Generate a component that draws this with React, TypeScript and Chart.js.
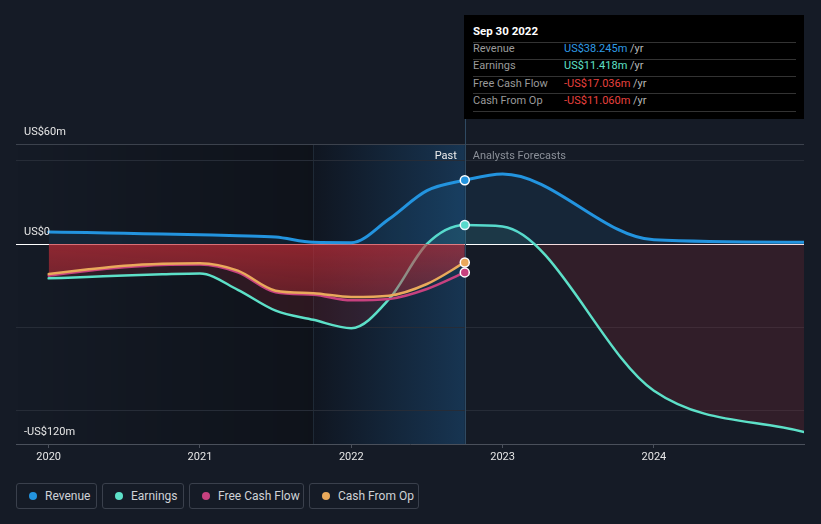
import React, { useEffect, useRef } from "react";
import { Chart, registerables } from "chart.js";

Chart.register(...registerables);

const BG = "#151b26";
const FONT = "Roboto, 'Open Sans', sans-serif";

// ---- data (US$ m) ----
const pastQuarters = [2020, 2020.25, 2020.5, 2020.75, 2021, 2021.25, 2021.5, 2021.75, 2022, 2022.25, 2022.5, 2022.75];
const revenuePast = [7.2, 6.9, 6.4, 6.0, 5.5, 5.0, 4.2, 1.0, 0.8, 15, 32, 38.245];
const earningsPast = [-20.6, -19.8, -18.9, -18.2, -17.7, -27.5, -40, -45.5, -50.5, -33, 0, 11.418];
const fcfPast = [-19, -16.2, -14, -12.6, -12.3, -17, -29, -30.5, -33.8, -33, -27, -17.036];
const cfoPast = [-18, -15.3, -13, -11.8, -11.5, -16, -28, -29.5, -31.8, -31, -24, -11.06];

const forecastYears = [2023, 2024, 2025];
const revenueForecast = [42, 2.5, 1.0];
const earningsForecast = [10.5, -88, -113];

const xTicks = [2020, 2021, 2022, 2023, 2024];
const yTicks = [-120, -100, -50, 0, 50, 60];
const yLabelValues = [60, 0, -120];
const yLabelTexts = ["US$60m", "US$0", "-US$120m"];

const pastStart = 2021.75;
const nowX = 2022.75;
const nowLabel = "Sep 30 2022";

const seriesNames = ["Revenue", "Earnings", "Free Cash Flow", "Cash From Op"];
const seriesColors = ["#2394df", "#5de0c8", "#c7417f", "#e9a95b"];
const valueColors = ["#2f9be6", "#5fe0c8", "#e8413e", "#e8413e"];

const toPts = (xs: number[], ys: number[]) => xs.map((x, i) => ({ x, y: ys[i] }));
const fmt = (v: number) => (v < 0 ? "-" : "") + "US$" + Math.abs(v).toFixed(3) + "m";

const shadePlugin = {
  id: "shade",
  beforeDraw(chart: any) {
    const { ctx, chartArea: a, scales } = chart;
    const xs = scales.x.getPixelForValue(pastStart);
    const xn = scales.x.getPixelForValue(nowX);
    ctx.save();
    let g = ctx.createLinearGradient(a.left, 0, xs, 0);
    g.addColorStop(0, "rgba(0,0,0,0)");
    g.addColorStop(1, "rgba(0,0,0,0.3)");
    ctx.fillStyle = g;
    ctx.fillRect(a.left, a.top, xs - a.left, a.bottom - a.top);
    g = ctx.createLinearGradient(xs, 0, xn, 0);
    g.addColorStop(0, "rgba(5,12,22,0.3)");
    g.addColorStop(1, "rgba(30,115,185,0.3)");
    ctx.fillStyle = g;
    ctx.fillRect(xs, a.top, xn - xs, a.bottom - a.top);
    ctx.strokeStyle = "rgba(60,80,100,0.35)";
    ctx.lineWidth = 1;
    ctx.beginPath();
    ctx.moveTo(Math.round(xs) + 0.5, a.top);
    ctx.lineTo(Math.round(xs) + 0.5, a.bottom);
    ctx.stroke();
    ctx.restore();
  },
  beforeDatasetsDraw(chart: any) {
    const { ctx, chartArea: a, scales } = chart;
    const xn = Math.round(scales.x.getPixelForValue(nowX)) + 0.5;
    ctx.save();
    ctx.strokeStyle = "#2f4a62";
    ctx.lineWidth = 1;
    ctx.beginPath();
    ctx.moveTo(xn, 119);
    ctx.lineTo(xn, a.bottom);
    ctx.stroke();
    ctx.restore();
  },
  afterDatasetsDraw(chart: any) {
    const { ctx, scales } = chart;
    const xn = scales.x.getPixelForValue(nowX);
    ctx.save();
    ctx.font = `11px ${FONT}`;
    ctx.textBaseline = "middle";
    ctx.fillStyle = "#e6e6e6";
    ctx.textAlign = "left";
    yLabelValues.forEach((v, i) => {
      ctx.fillText(yLabelTexts[i], 24, scales.y.getPixelForValue(v) - 12);
    });
    ctx.textAlign = "right";
    ctx.fillStyle = "#eeeeee";
    ctx.fillText("Past", xn - 8, 156);
    ctx.textAlign = "left";
    ctx.fillStyle = "#8b9099";
    ctx.fillText("Analysts Forecasts", xn + 8, 156);
    ctx.restore();
  },
};

const pointR = (c: any) => (c.raw && c.raw.x === nowX ? 4.5 : 0);

export default function App() {
  const ref = useRef<HTMLCanvasElement>(null);

  useEffect(() => {
    const cfoFill = (c: any) => {
      const ch = c.chart;
      if (!ch.chartArea) return "rgba(200,45,55,0.5)";
      const y0 = ch.scales.y.getPixelForValue(0);
      const y1 = ch.scales.y.getPixelForValue(-35);
      const g = ch.ctx.createLinearGradient(0, y0, 0, y1);
      g.addColorStop(0, "rgba(200,45,55,0.62)");
      g.addColorStop(1, "rgba(200,45,55,0.32)");
      return g;
    };
    const common = {
      pointRadius: pointR,
      pointBorderColor: "#ffffff",
      pointBorderWidth: 1.5,
      cubicInterpolationMode: "monotone",
      borderCapStyle: "round",
    };
    const chart = new Chart(ref.current!, {
      type: "line",
      data: {
        datasets: [
          {
            ...common,
            label: seriesNames[0],
            data: toPts(pastQuarters.concat(forecastYears), revenuePast.concat(revenueForecast)),
            borderColor: seriesColors[0],
            pointBackgroundColor: seriesColors[0],
            borderWidth: 3,
            fill: "origin",
            backgroundColor: "rgba(33,150,243,0.09)",
          },
          {
            ...common,
            label: seriesNames[3],
            data: toPts(pastQuarters, cfoPast),
            borderColor: seriesColors[3],
            pointBackgroundColor: seriesColors[3],
            borderWidth: 2.5,
            fill: "origin",
            backgroundColor: cfoFill,
          },
          {
            ...common,
            label: seriesNames[2],
            data: toPts(pastQuarters, fcfPast),
            borderColor: seriesColors[2],
            pointBackgroundColor: seriesColors[2],
            borderWidth: 2.5,
            fill: false,
          },
          {
            ...common,
            label: seriesNames[1],
            data: toPts(pastQuarters.concat(forecastYears), earningsPast.concat(earningsForecast)),
            borderColor: seriesColors[1],
            pointBackgroundColor: seriesColors[1],
            borderWidth: 2.5,
            fill: { target: "origin", above: "rgba(88,224,198,0.10)", below: "rgba(190,45,60,0.17)" },
          },
        ],
      } as any,
      options: {
        responsive: false,
        animation: false,
        events: [],
        layout: { padding: { left: 16, right: 17, top: 144, bottom: 0 } },
        plugins: { legend: { display: false }, tooltip: { enabled: false } },
        scales: {
          x: {
            type: "linear",
            min: 2019.784,
            max: 2024.992,
            afterBuildTicks: (s: any) => {
              s.ticks = xTicks.map((v) => ({ value: v }));
            },
            afterFit: (s: any) => {
              s.height = 26;
            },
            grid: { drawOnChartArea: false, drawTicks: true, tickLength: 4, color: "#4a505b" },
            border: { display: true, color: "#4a505b" },
            ticks: {
              color: "#e6e6e6",
              font: { size: 11, family: FONT },
              padding: 3,
              callback: (v: any) => String(v),
              maxRotation: 0,
            },
          },
          y: {
            type: "linear",
            min: -120,
            max: 60,
            afterBuildTicks: (s: any) => {
              s.ticks = yTicks.map((v) => ({ value: v }));
            },
            afterFit: (s: any) => {
              s.width = 0;
            },
            grid: {
              drawTicks: false,
              color: (c: any) => {
                const v = c.tick && c.tick.value;
                if (v === 0) return "#ffffff";
                if (v === 60) return "#3c424d";
                if (v === -120) return "rgba(0,0,0,0)";
                return "#262c37";
              },
            },
            border: { display: false },
            ticks: { display: false },
          },
        },
      } as any,
      plugins: [shadePlugin],
    });
    return () => chart.destroy();
  }, []);

  const tipValues = [revenuePast, earningsPast, fcfPast, cfoPast].map((a) => a[a.length - 1]);
  const legendLefts = [16, 102, 189, 309];
  const legendWidths = [81, 82, 115, 110];
  const rowYs = [49, 66, 84, 101];
  const lineYs = [41.5, 58.5, 76, 93, 110.5];

  return (
    <div style={{ position: "fixed", left: 0, top: 0, width: 821, height: 524, background: BG, overflow: "hidden", fontFamily: FONT }}>
      <canvas ref={ref} width={821} height={470} style={{ position: "absolute", left: 0, top: 0, width: 821, height: 470 }} />
      <div style={{ position: "absolute", left: 464, top: 15, width: 340, height: 104, background: "#000000" }}>
        <div style={{ position: "absolute", left: 9, top: 16 - 8, fontSize: 11.5, fontWeight: 700, color: "#ffffff", lineHeight: "16px" }}>{nowLabel}</div>
        {lineYs.map((y, i) => (
          <div key={"l" + i} style={{ position: "absolute", left: 9, top: Math.round(y - 15), width: 323, height: 1, background: "#333333" }} />
        ))}
        {seriesNames.map((n, i) => (
          <div key={n} style={{ position: "absolute", left: 9, top: rowYs[i] - 15 - 8, height: 16, lineHeight: "16px", fontSize: 11, whiteSpace: "nowrap" }}>
            <span style={{ color: "#9a9a9a", position: "absolute", left: 0 }}>{n}</span>
            <span style={{ position: "absolute", left: 91, whiteSpace: "nowrap" }}>
              <span style={{ color: valueColors[i] }}>{fmt(tipValues[i])}</span>
              <span style={{ color: "#b8b8b8" }}> /yr</span>
            </span>
          </div>
        ))}
      </div>
      {seriesNames.map((n, i) => (
        <div
          key={"lg" + n}
          style={{
            position: "absolute",
            left: legendLefts[i],
            top: 483,
            width: legendWidths[i],
            height: 26,
            boxSizing: "border-box",
            border: "1px solid #3a404c",
            borderRadius: 3,
            display: "flex",
            alignItems: "center",
            paddingLeft: 12,
            fontSize: 12,
            color: "#cfd2d6",
            whiteSpace: "nowrap",
          }}
        >
          <span style={{ width: 8, height: 8, borderRadius: 4, background: seriesColors[i], marginRight: 8, flex: "none" }} />
          {n}
        </div>
      ))}
    </div>
  );
}
